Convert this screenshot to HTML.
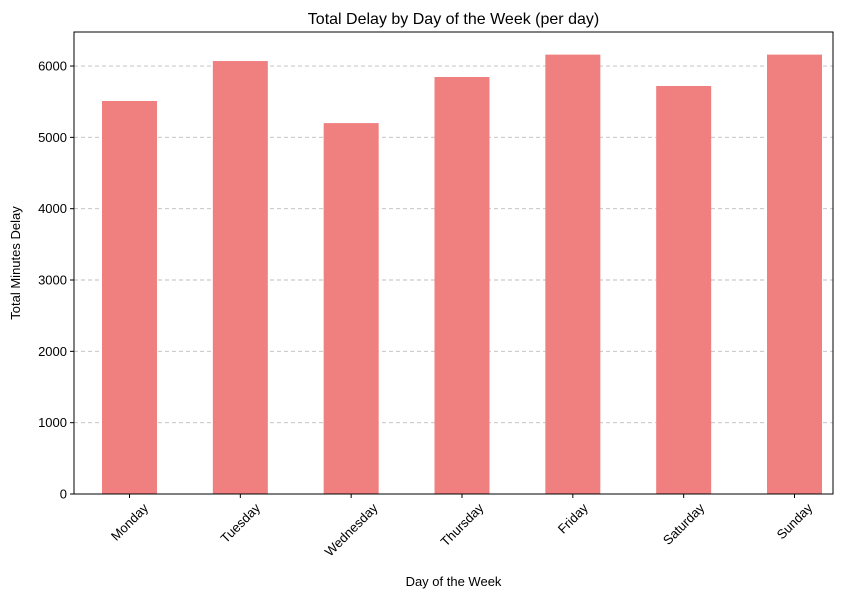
<!DOCTYPE html>
<html><head><meta charset="utf-8"><style>body{margin:0;background:#fff}svg{display:block;font-family:"Liberation Sans",sans-serif}</style></head>
<body>
<svg id="chart" width="859" height="600"></svg>
<script>
const categories=["Monday","Tuesday","Wednesday","Thursday","Friday","Saturday","Sunday"];
const values=[5510,6070,5200,5846,6160,5720,6160];
const yTicks=[0,1000,2000,3000,4000,5000,6000];
const L=74,R=833,T=32,B=494,yMax=6477;
const svg=document.getElementById('chart');
const NS='http://www.w3.org/2000/svg';
function y(v){return B-(v/yMax)*(B-T);}
const step=(794.5-129.5)/6;
function x(i){return 129.5+i*step;}
function mk(t,a,p){const e=document.createElementNS(NS,t);for(const k in a)e.setAttribute(k,a[k]);(p||svg).appendChild(e);return e;}
const grid=mk('g',{});


yTicks.forEach(v=>{if(v>0){mk('line',{x1:L,x2:R,y1:y(v),y2:y(v),stroke:'#bdbdbd','stroke-dasharray':'4,3','stroke-width':0.9},grid);}});
const bw=55;
values.forEach((v,i)=>{const r=mk('rect',{x:x(i)-bw/2,y:y(v),width:bw,height:B-y(v),fill:'#f08080'});

});
const frame=mk('rect',{x:L,y:T,width:R-L,height:B-T,fill:'none',stroke:'#000','stroke-width':1});


yTicks.forEach(v=>{mk('line',{x1:L-4,x2:L,y1:y(v),y2:y(v),stroke:'#000'});
const t=mk('text',{x:L-7,y:y(v)+4.5,'text-anchor':'end','font-size':13});t.textContent=v;

});
categories.forEach((c,i)=>{mk('line',{x1:x(i),x2:x(i),y1:B,y2:B+4,stroke:'#000'});
const t=mk('text',{x:0,y:0,'text-anchor':'middle','font-size':13});t.textContent=c;


const len=t.getComputedTextLength();
const h=(len+13)*0.7071;
const cy=B+7+h/2;
t.setAttribute('x',x(i));t.setAttribute('y',cy+4.5);
t.setAttribute('transform',`rotate(-45 ${x(i)} ${cy})`);});
const ti=mk('text',{x:(L+R)/2,y:24,'text-anchor':'middle','font-size':16});ti.textContent='Total Delay by Day of the Week (per day)';


const xl=mk('text',{x:(L+R)/2,y:586,'text-anchor':'middle','font-size':13});xl.textContent='Day of the Week';


const yl=mk('text',{x:20,y:(T+B)/2,'text-anchor':'middle','font-size':13,transform:`rotate(-90 20 ${(T+B)/2})`});yl.textContent='Total Minutes Delay';


</script>
</body></html>
